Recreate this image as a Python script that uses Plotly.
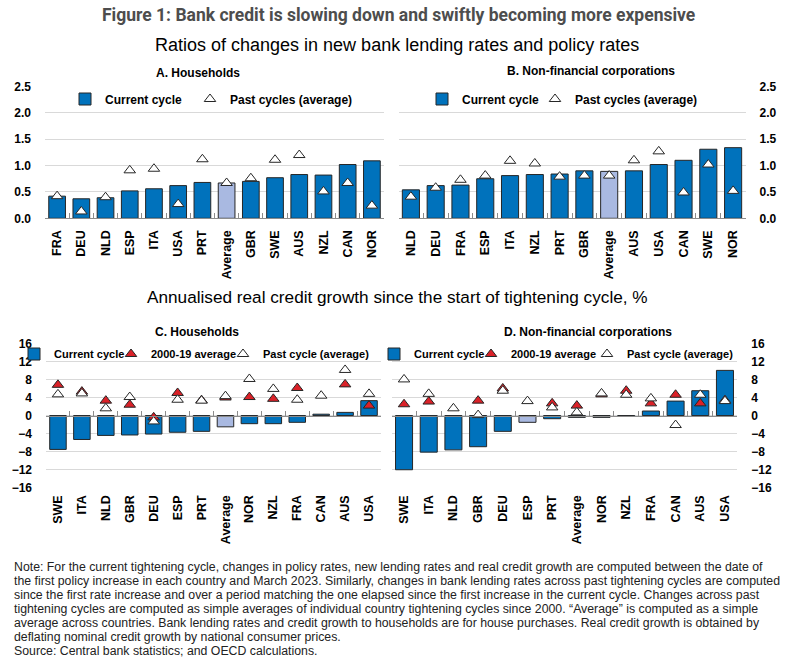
import plotly.graph_objects as go

W, H = 795, 672

# ---------------- data ----------------
# A. Households: ratio of changes in new bank lending rates and policy rates
A_cats = ["FRA", "DEU", "NLD", "ESP", "ITA", "USA", "PRT", "Average", "GBR", "SWE", "AUS", "NZL", "CAN", "NOR"]
A_current = [0.42, 0.37, 0.39, 0.52, 0.56, 0.62, 0.68, 0.67, 0.70, 0.77, 0.83, 0.82, 1.02, 1.09]
A_past = [0.42, 0.13, 0.40, 0.91, 0.94, 0.27, 1.12, 0.67, 0.76, 1.11, 1.20, 0.51, 0.67, 0.24]

# B. Non-financial corporations
B_cats = ["NLD", "DEU", "FRA", "ESP", "ITA", "NZL", "PRT", "GBR", "Average", "AUS", "USA", "CAN", "SWE", "NOR"]
B_current = [0.54, 0.62, 0.63, 0.75, 0.81, 0.83, 0.84, 0.90, 0.89, 0.90, 1.02, 1.10, 1.31, 1.34]
B_past = [0.41, 0.58, 0.73, 0.81, 1.09, 1.04, 0.79, 0.81, 0.81, 1.10, 1.27, 0.49, 1.02, 0.52]

# C. Households: annualised real credit growth, %
C_cats = ["SWE", "ITA", "NLD", "GBR", "DEU", "ESP", "PRT", "Average", "NOR", "NZL", "FRA", "CAN", "AUS", "USA"]
C_current = [-7.5, -5.3, -4.4, -4.3, -4.1, -3.7, -3.5, -2.5, -1.8, -1.8, -1.5, 0.3, 0.7, 3.3]
C_avg0019 = [6.8, 5.3, 3.3, 2.4, -0.4, 5.0, 3.4, 4.0, 4.1, 3.7, 6.1, None, 6.9, 2.2]
C_past = [4.7, 4.9, 1.6, 4.1, -1.3, 3.5, 3.3, 4.3, 8.1, 5.9, 3.5, 4.4, 10.1, 4.8]

# D. Non-financial corporations
D_cats = ["SWE", "ITA", "NLD", "GBR", "DEU", "ESP", "PRT", "Average", "NOR", "NZL", "FRA", "CAN", "AUS", "USA"]
D_current = [-12.0, -8.1, -7.6, -6.9, -3.5, -1.5, -0.7, -0.4, -0.4, -0.2, 1.0, 3.2, 5.5, 10.0]
D_avg0019 = [2.5, 3.1, None, 3.3, 6.0, None, 2.7, 2.2, 4.7, 5.5, 2.7, 4.6, 2.7, 3.4]
D_past = [8.0, 4.8, 1.6, 0.1, 5.5, 3.2, 1.8, 0.7, 4.9, 4.6, 3.8, -2.1, 4.6, 3.2]

A_highlight = "Average"
B_highlight = "Average"
C_highlight = "Average"
D_highlight = "ESP"

ratio_ticks = [0, 0.5, 1.0, 1.5, 2.0, 2.5]
growth_ticks = [-16, -12, -8, -4, 0, 4, 8, 12, 16]

title_text = "Figure 1: Bank credit is slowing down and swiftly becoming more expensive"
sub1_text = "Ratios of changes in new bank lending rates and policy rates"
sub2_text = "Annualised real credit growth since the start of tightening cycle, %"
note_lines = [
    "Note: For the current tightening cycle, changes in policy rates, new lending rates and real credit growth are computed between the date of",
    "the first policy increase in each country and March 2023. Similarly, changes in bank lending rates across past tightening cycles are computed",
    "since the first rate increase and over a period matching the one elapsed since the first increase in the current cycle. Changes across past",
    "tightening cycles are computed as simple averages of individual country tightening cycles since 2000. \u201cAverage\u201d is computed as a simple",
    "average across countries. Bank lending rates and credit growth to households are for house purchases. Real credit growth is obtained by",
    "deflating nominal credit growth by national consumer prices.",
    "Source: Central bank statistics; and OECD calculations.",
]

# ---------------- style ----------------
BLUE = "#0072BC"
LIGHT = "#A9B9E1"
RED = "#DA2128"
OUTLINE = "#262626"
GRID = "#D9D9D9"
AXIS = "#8C8C8C"
SANS = "Liberation Sans, Arial, sans-serif"


def px(x):
    return x / W


def py(y):
    return 1 - y / H


fig = go.Figure()


def colors(cats, hl):
    return [LIGHT if c == hl else BLUE for c in cats]


def add_bar(cats, vals, hl, xa, ya, leg):
    fig.add_trace(go.Bar(
        x=cats, y=vals, name="Current cycle", xaxis=xa, yaxis=ya, legend=leg,
        marker=dict(color=colors(cats, hl), line=dict(color=OUTLINE, width=1)),
        showlegend=True,
    ))


def add_tri(cats, vals, name, fill, xa, ya, leg):
    fig.add_trace(go.Scatter(
        x=cats, y=vals, name=name, mode="markers", xaxis=xa, yaxis=ya, legend=leg,
        marker=dict(symbol="triangle-up", size=10, color=fill,
                    line=dict(color=OUTLINE, width=1)),
        showlegend=True,
    ))


# Panel A
add_bar(A_cats, A_current, A_highlight, "x", "y", "legend")
add_tri(A_cats, A_past, "Past cycles (average)", "white", "x", "y", "legend2")
# Panel B
add_bar(B_cats, B_current, B_highlight, "x2", "y2", "legend3")
add_tri(B_cats, B_past, "Past cycles (average)", "white", "x2", "y2", "legend4")
# Panel C
add_bar(C_cats, C_current, C_highlight, "x3", "y3", "legend5")
add_tri(C_cats, C_avg0019, "2000-19 average", RED, "x5", "y3", "legend6")
add_tri(C_cats, C_past, "Past cycle (average)", "white", "x5", "y3", "legend7")
# Panel D
add_bar(D_cats, D_current, D_highlight, "x4", "y4", "legend8")
add_tri(D_cats, D_avg0019, "2000-19 average", RED, "x6", "y4", "legend9")
add_tri(D_cats, D_past, "Past cycle (average)", "white", "x6", "y4", "legend10")

# ---------------- layout ----------------
dom_A = [px(45), px(384)]
dom_B = [px(398.5), px(745.5)]
dom_C = [px(46), px(381)]
dom_D = [px(391.7), px(737.3)]
ydom_top = [py(218.3), py(86.5)]
ydom_bot = [py(487.8), py(343.3)]
zero_pos = (ydom_bot[0] + ydom_bot[1]) / 2

catfont = dict(family=SANS, size=12.5, color="#000", weight="bold")
valfont = dict(family=SANS, size=12, color="#000", weight="bold")


def cat_axis(cats, dom, anchor, line):
    d = dict(type="category", categoryorder="array", categoryarray=cats,
             range=[-0.5, len(cats) - 0.5], domain=dom, anchor=anchor,
             tickangle=-90, tickfont=catfont, showgrid=False, zeroline=False,
             automargin=False, fixedrange=True)
    if line:
        d.update(showline=True, linecolor=AXIS, linewidth=1, ticks="inside",
                 tickson="boundaries", ticklen=5, tickcolor=AXIS,
                 ticklabelstandoff=6)
    else:
        d.update(showline=False, ticks="", ticklabelstandoff=4)
    return d


def zero_axis(cats, over):
    return dict(type="category", categoryorder="array", categoryarray=cats,
                range=[-0.5, len(cats) - 0.5], overlaying=over, anchor="free",
                position=zero_pos, showline=True, linecolor=AXIS, linewidth=1,
                ticks="inside", tickson="boundaries", ticklen=5, tickcolor=AXIS,
                showticklabels=False, showgrid=False, zeroline=False,
                automargin=False, fixedrange=True)


def val_axis(dom, rng, tickvals, side, fmt, anchor):
    return dict(domain=dom, range=rng, tickvals=tickvals, tickformat=fmt,
                side=side, anchor=anchor, showgrid=True, gridcolor=GRID,
                gridwidth=1, zeroline=False, showline=False, ticks="",
                tickfont=valfont, ticklabelstandoff=13, fixedrange=True,
                automargin=False)


layout = dict(
    width=W, height=H, autosize=False,
    margin=dict(l=0, r=0, t=0, b=0),
    paper_bgcolor="white", plot_bgcolor="white",
    bargap=0.31,
    hovermode=False,
    xaxis=cat_axis(A_cats, dom_A, "y", True),
    xaxis2=cat_axis(B_cats, dom_B, "y2", True),
    xaxis3=cat_axis(C_cats, dom_C, "y3", False),
    xaxis4=cat_axis(D_cats, dom_D, "y4", False),
    xaxis5=zero_axis(C_cats, "x3"),
    xaxis6=zero_axis(D_cats, "x4"),
    yaxis=val_axis(ydom_top, [0, 2.5], ratio_ticks, "left", ".1f", "x"),
    yaxis2=val_axis(ydom_top, [0, 2.5], ratio_ticks, "right", ".1f", "x2"),
    yaxis3=val_axis(ydom_bot, [-16, 16], growth_ticks, "left", "d", "x3"),
    yaxis4=val_axis(ydom_bot, [-16, 16], growth_ticks, "right", "d", "x4"),
)

# legends, one per series so each entry sits where the original has it
legend_spots = [
    ("legend", 105, 99, 12), ("legend2", 230, 99, 12),
    ("legend3", 462, 99, 12), ("legend4", 575, 99, 12),
    ("legend5", 54, 354, 11), ("legend6", 151, 354, 11), ("legend7", 263, 354, 11),
    ("legend8", 414, 354, 11), ("legend9", 511, 354, 11), ("legend10", 627, 354, 11),
]
for key, tx, ty, fs in legend_spots:
    layout[key] = dict(x=px(tx - 40), xanchor="left", y=py(ty), yanchor="middle",
                       orientation="h", bgcolor="rgba(0,0,0,0)", borderwidth=0,
                       font=dict(family=SANS, size=fs, color="#000", weight="bold"))

fig.update_layout(**layout)

ann = []
ann.append(dict(text=title_text, x=px(398), y=py(15), xref="paper", yref="paper",
                showarrow=False, xanchor="center", yanchor="middle",
                font=dict(family="Roboto", size=17.5, color="#4D4D4D", weight="bold")))
ann.append(dict(text=sub1_text, x=px(397), y=py(45), xref="paper", yref="paper",
                showarrow=False, xanchor="center", yanchor="middle",
                font=dict(family=SANS, size=18, color="#000")))
ann.append(dict(text=sub2_text, x=px(397), y=py(297), xref="paper", yref="paper",
                showarrow=False, xanchor="center", yanchor="middle",
                font=dict(family=SANS, size=17.2, color="#000")))
panel_titles = [("A. Households", 198, 73), ("B. Non-financial corporations", 591, 71),
                ("C. Households", 197, 332), ("D. Non-financial corporations", 588, 332)]
for t, x, y in panel_titles:
    ann.append(dict(text=t, x=px(x), y=py(y), xref="paper", yref="paper",
                    showarrow=False, xanchor="center", yanchor="middle",
                    font=dict(family=SANS, size=12, color="#000", weight="bold")))
for i, line in enumerate(note_lines):
    ann.append(dict(text=line, x=px(12), y=py(567 + 14 * i), xref="paper", yref="paper",
                    showarrow=False, xanchor="left", yanchor="middle",
                    font=dict(family=SANS, size=12.3, color="#222")))
fig.update_layout(annotations=ann)

fig.write_html(
    "out.html",
    config={"displayModeBar": False, "staticPlot": True},
    post_script="document.body.style.margin='0';document.body.style.overflow='hidden';",
)
